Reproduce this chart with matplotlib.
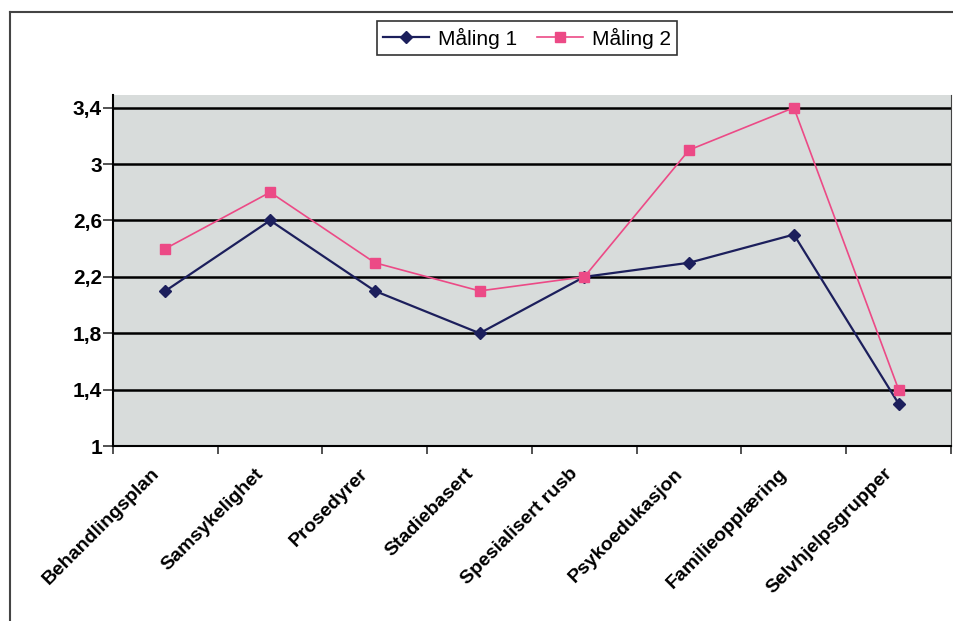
"""Line chart: Måling 1 vs Måling 2 across treatment categories (Excel style)."""

import matplotlib.pyplot as plt
from matplotlib.lines import Line2D
from matplotlib.ticker import FixedLocator, NullFormatter
import matplotlib.transforms as mtransforms
import numpy as np

plt.rcParams["font.family"] = ["Liberation Sans", "DejaVu Sans"]

categories = [
    "Behandlingsplan",
    "Samsykelighet",
    "Prosedyrer",
    "Stadiebasert",
    "Spesialisert rusb",
    "Psykoedukasjon",
    "Familieopplæring",
    "Selvhjelpsgrupper",
]
maling_1 = [2.1, 2.6, 2.1, 1.8, 2.2, 2.3, 2.5, 1.3]
maling_2 = [2.4, 2.8, 2.3, 2.1, 2.2, 3.1, 3.4, 1.4]
y_ticks = [1, 1.4, 1.8, 2.2, 2.6, 3, 3.4]
y_tick_labels = ["1", "1,4", "1,8", "2,2", "2,6", "3", "3,4"]

NAVY = "#1c1f5c"
PINK = "#ec4a86"
PLOT_BG = "#d8dcdb"

fig = plt.figure(figsize=(9.54, 6.21), dpi=100)
ax = fig.add_axes([113 / 954, 1 - 446 / 621, (951 - 113) / 954, (446 - 95) / 621])
ax.set_facecolor(PLOT_BG)

x = np.arange(len(categories))
ax.plot(x, maling_1, color=NAVY, linewidth=1.6, marker="D", markersize=6.5,
        label="Måling 1", zorder=3)
ax.plot(x, maling_2, color=PINK, linewidth=1.2, marker="s", markersize=6.5,
        label="Måling 2", zorder=3)

ax.set_xlim(-0.5, len(categories) - 0.5)
ax.set_ylim(1, 3.49)
ax.set_yticks(y_ticks)
ax.set_yticklabels(y_tick_labels, fontsize=15, fontweight="bold")
for y in y_ticks[1:]:
    ax.axhline(y, color="black", linewidth=1.8, zorder=1)

ax.set_xticks(x)
ax.set_xticklabels(categories, fontsize=14, fontweight="bold",
                   rotation=45, ha="right", va="center", rotation_mode="anchor")
ax.tick_params(axis="x", which="major", length=0, pad=18)
shift = mtransforms.ScaledTranslation(-9 / 100, 0, fig.dpi_scale_trans)
for lbl in ax.get_xticklabels():
    lbl.set_transform(lbl.get_transform() + shift)
ax.xaxis.set_minor_locator(FixedLocator(np.arange(-0.5, len(categories), 1.0)))
ax.xaxis.set_minor_formatter(NullFormatter())
ax.tick_params(axis="x", which="minor", length=6, width=1.2, color="#333333")
ax.tick_params(axis="y", length=7, width=1.2, color="#333333", pad=1)

ax.spines["top"].set_visible(False)
ax.spines["right"].set_color("#444444")
ax.spines["left"].set_linewidth(1.5)
ax.spines["bottom"].set_linewidth(1.5)

leg = fig.legend(loc="center", bbox_to_anchor=(527 / 954, 1 - 38 / 621), ncol=2,
                 frameon=True, fancybox=False, edgecolor="black", fontsize=15,
                 handlelength=2.2, columnspacing=1.0, borderpad=0.3,
                 handletextpad=0.4)
leg.get_frame().set_linewidth(1.2)

# outer chart frame (left and top edges visible in the crop)
fig.add_artist(Line2D([10 / 954, 10 / 954], [0, 1 - 12 / 621], color="#444444", linewidth=1.5))
fig.add_artist(Line2D([10 / 954, 1], [1 - 12 / 621, 1 - 12 / 621], color="#444444", linewidth=1.5))

fig.savefig("out.png", dpi=100)
plt.close(fig)
